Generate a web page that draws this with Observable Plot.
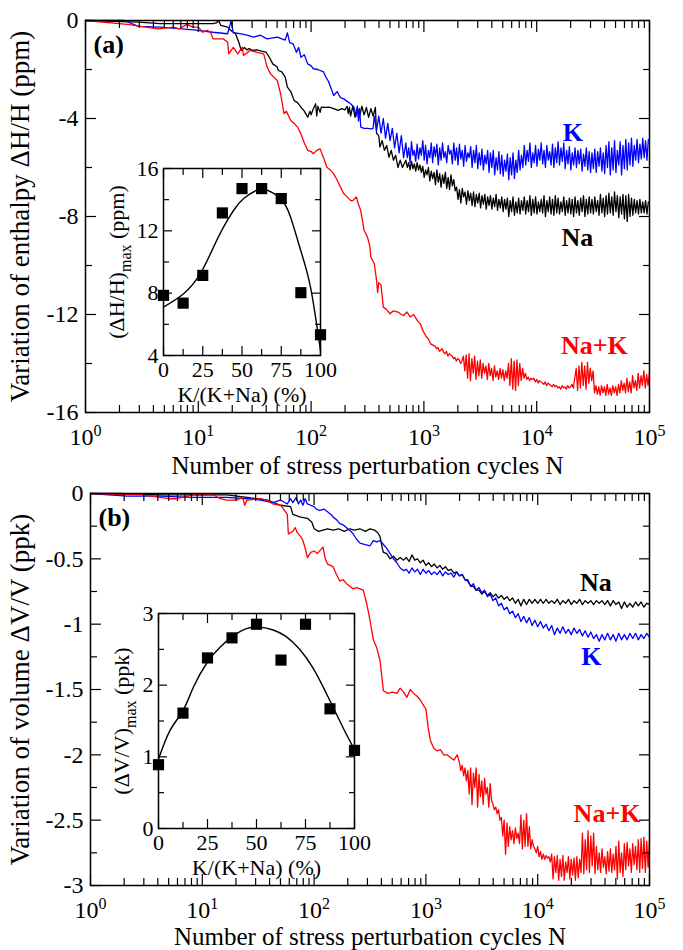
<!DOCTYPE html>
<html><head><meta charset="utf-8">
<script src="https://cdn.jsdelivr.net/npm/d3@7"></script>
<script src="https://cdn.jsdelivr.net/npm/@observablehq/plot@0.6"></script>
<style>
body{margin:0;background:#fff;}
#wrap{position:relative;width:683px;height:950px;overflow:hidden;}
.panel{position:relative;width:683px;}
.inset{position:absolute;}
svg{overflow:visible;}
</style></head><body>
<div id="wrap"><div id="pa" class="panel" style="height:482px"></div><div id="pb" class="panel" style="height:468px"></div></div>
<script>
// ---------- DATA ----------
// Panel (a): enthalpy, early parts as [log10 N, value]; noisy tails sampled every tailStep in log10 N
const K_a_early = [[0,0],[0.34,0],[0.47,-0.24],[0.66,-0.27],[0.96,-0.38],[1.13,-0.48],[1.26,-0.54],[1.29,-0.02],[1.31,-0.5],[1.37,-0.54],[1.44,-0.61],[1.49,-0.68],[1.55,-0.6],[1.61,-0.75],[1.70,-0.68],[1.77,-0.8],[1.79,-0.5],[1.81,-0.9],[1.84,-0.95],[1.87,-1.3],[1.89,-1.1],[1.91,-1.5],[1.94,-1.4],[1.97,-1.77],[2.00,-1.85],[2.02,-1.97],[2.06,-2.0],[2.11,-2.1],[2.13,-2.3],[2.15,-2.45],[2.18,-2.8],[2.20,-3.06],[2.23,-2.9],[2.26,-3.15],[2.29,-3.2],[2.32,-3.3],[2.35,-3.4],[2.38,-3.54],[2.40,-3.9],[2.41,-3.5],[2.42,-4.1],[2.43,-3.6],[2.44,-4.35],[2.47,-4.4],[2.50,-4.4],[2.53,-4.42],[2.55,-4.4],[2.56,-3.9],[2.58,-4.5],[2.60,-3.9],[2.62,-4.6],[2.64,-4.0],[2.66,-4.8],[2.68,-4.2],[2.70,-4.9],[2.72,-4.4],[2.74,-5.2],[2.76,-4.6],[2.78,-5.4],[2.80,-4.7],[2.82,-5.6]];
const K_a_tailStart = 2.84, K_a_tailStep = 0.0125;
const K_a_tail = [-5.0,-5.6,-5.2,-5.8,-4.95,-5.5,-5.3,-5.75,-5.05,-5.65,-5.2,-5.5,
 -4.9,-5.7,-5.1,-5.85,-5.3,-5.6,-5.0,-5.8,-5.15,-5.55,-5.05,-5.9,
 -5.2,-5.7,-5.0,-5.6,-5.35,-5.8,-5.1,-5.45,-5.3,-5.85,-5.0,-5.7,
 -5.2,-5.9,-5.05,-5.65,-5.3,-5.95,-5.1,-5.75,-5.4,-5.6,-5.15,-6.0,
 -5.3,-5.8,-5.1,-6.05,-5.4,-5.9,-5.25,-6.1,-5.5,-5.85,-5.3,-6.2,
 -5.4,-6.0,-5.3,-6.3,-5.6,-6.1,-5.35,-6.25,-5.5,-6.35,-5.7,-6.15,
 -5.45,-6.5,-5.6,-6.3,-5.4,-6.45,-5.7,-6.2,-5.3,-6.1,-5.5,-6.0,
 -5.1,-5.9,-5.3,-5.75,-5.0,-6.0,-5.4,-5.8,-5.1,-5.95,-5.25,-5.7,
 -5.0,-5.85,-5.3,-6.0,-5.1,-5.7,-5.35,-5.9,-5.05,-6.0,-5.2,-5.8,
 -4.95,-5.9,-5.2,-5.75,-5.0,-6.05,-5.3,-5.85,-5.15,-6.1,-5.4,-5.9,
 -5.2,-6.0,-5.3,-5.85,-5.25,-6.15,-5.45,-5.95,-5.2,-6.1,-5.35,-6.2,
 -5.4,-6.05,-5.25,-6.2,-5.35,-5.95,-5.2,-6.15,-5.4,-6.25,-5.1,-6.0,
 -4.95,-6.3,-5.2,-6.1,-4.9,-6.2,-5.3,-5.9,-4.95,-6.3,-5.1,-6.05,
 -4.85,-6.1,-5.0,-5.9,-4.8,-5.95,-5.1,-5.7,-4.85,-5.8,-5.05,-5.65,
 -4.8,-5.6,-4.9,-5.7,-4.85];
const Na_a_early = [[0,0],[0.34,-0.05],[0.47,-0.07],[0.66,-0.13],[0.9,-0.13],[1.13,-0.13],[1.16,-0.1],[1.18,0],[1.20,-0.2],[1.26,-0.27],[1.30,-0.45],[1.33,-0.54],[1.36,-0.9],[1.38,-1.22],[1.41,-1.1],[1.43,-1.2],[1.45,-1.15],[1.48,-1.22],[1.52,-1.2],[1.56,-1.25],[1.60,-1.29],[1.63,-1.5],[1.66,-1.77],[1.70,-1.9],[1.71,-2.04],[1.74,-2.1],[1.77,-2.31],[1.79,-2.72],[1.82,-2.9],[1.85,-3.27],[1.88,-3.35],[1.91,-3.54],[1.94,-3.7],[1.97,-3.95],[1.99,-3.7],[2.00,-3.85],[2.02,-3.6],[2.04,-3.4],[2.05,-3.9],[2.06,-3.5],[2.08,-3.75],[2.09,-3.54],[2.12,-3.55],[2.16,-3.54],[2.20,-3.6],[2.24,-3.67],[2.27,-3.6],[2.30,-3.65],[2.32,-3.5],[2.33,-3.8],[2.34,-3.54],[2.35,-3.9],[2.37,-3.5],[2.39,-3.95],[2.41,-3.55],[2.43,-3.9],[2.45,-3.5],[2.47,-3.85],[2.49,-3.55],[2.51,-3.95],[2.53,-3.6],[2.55,-3.9],[2.57,-3.55],[2.58,-4.6],[2.60,-4.7],[2.61,-5.17],[2.63,-4.9],[2.65,-5.3],[2.67,-5.1],[2.69,-5.58],[2.71,-5.3],[2.73,-5.7],[2.75,-5.5],[2.77,-6.0],[2.79,-5.7],[2.81,-6.0]];
const Na_a_tailStart = 2.84, Na_a_tailStep = 0.0125;
const Na_a_tail = [-5.7,-6.0,-5.8,-6.1,-5.75,-6.05,-5.85,-6.15,-5.8,-6.1,-5.9,-6.2,
 -5.95,-6.4,-6.1,-6.3,-6.0,-6.55,-6.15,-6.45,-6.2,-6.7,-6.1,-6.6,
 -6.25,-6.8,-6.3,-6.65,-6.2,-6.85,-6.4,-6.9,-6.3,-6.75,-6.5,-6.95,
 -6.8,-7.3,-6.9,-7.45,-6.85,-7.2,-7.0,-7.5,-6.95,-7.35,-7.05,-7.55,
 -7.0,-7.6,-7.1,-7.45,-7.05,-7.65,-7.15,-7.5,-7.1,-7.7,-7.2,-7.55,
 -7.15,-7.7,-7.25,-7.6,-7.1,-7.75,-7.3,-7.65,-7.2,-7.8,-7.3,-7.7,
 -7.25,-8.0,-7.35,-7.8,-7.2,-7.95,-7.4,-7.85,-7.25,-7.9,-7.35,-7.75,
 -7.2,-7.9,-7.35,-7.8,-7.15,-7.95,-7.3,-7.85,-7.2,-7.9,-7.4,-7.8,
 -7.3,-7.85,-7.15,-8.0,-7.35,-7.8,-7.2,-7.9,-7.3,-7.95,-7.15,-7.85,
 -7.25,-7.9,-7.4,-7.8,-7.2,-7.95,-7.35,-7.85,-7.25,-7.9,-7.3,-8.0,
 -7.2,-7.85,-7.35,-7.95,-7.25,-7.8,-7.15,-8.0,-7.3,-7.9,-7.2,-7.85,
 -7.3,-7.9,-7.2,-7.8,-7.35,-7.95,-7.1,-7.85,-7.25,-8.0,-7.15,-7.9,
 -7.05,-7.85,-7.2,-7.95,-7.0,-7.8,-7.15,-8.05,-7.2,-7.9,-7.1,-8.1,
 -7.15,-8.2,-7.1,-8.0,-7.25,-7.95,-7.3,-7.85,-7.35,-7.9,-7.3,-7.85,
 -7.4,-7.85,-7.35,-7.9,-7.4];
const NaK_a_early = [[0,0],[0.37,-0.16],[0.64,-0.34],[0.78,-0.27],[0.83,-0.34],[0.9,-0.16],[0.95,-0.27],[1.0,-0.27],[1.04,-0.48],[1.08,-0.4],[1.11,-0.5],[1.13,-0.75],[1.22,-0.75],[1.26,-0.88],[1.27,-1.36],[1.31,-1.1],[1.35,-1.36],[1.39,-1.09],[1.40,-1.43],[1.46,-1.22],[1.52,-1.3],[1.58,-1.36],[1.61,-1.9],[1.64,-2.18],[1.70,-2.45],[1.73,-3.0],[1.76,-3.8],[1.78,-3.7],[1.82,-4.08],[1.85,-4.2],[1.88,-4.35],[1.91,-4.63],[1.94,-5.0],[1.97,-5.3],[2.0,-5.35],[2.02,-5.44],[2.05,-5.3],[2.08,-5.24],[2.11,-5.6],[2.14,-5.99],[2.17,-6.1],[2.20,-6.26],[2.23,-6.5],[2.26,-6.8],[2.29,-7.07],[2.32,-7.2],[2.35,-7.35],[2.37,-7.35],[2.40,-7.2],[2.42,-7.5],[2.44,-7.76],[2.46,-8.3],[2.47,-8.57],[2.50,-8.84],[2.52,-9.2],[2.53,-9.66],[2.56,-9.93],[2.58,-10.6],[2.59,-11.1],[2.60,-10.7],[2.62,-10.8],[2.64,-11.7],[2.67,-11.8],[2.70,-11.97],[2.73,-11.85],[2.77,-11.9],[2.80,-12.0],[2.82,-12.04],[2.85,-11.9],[2.88,-12.1],[2.91,-12.0],[2.94,-12.24],[2.97,-12.4],[2.99,-12.65],[3.02,-12.9],[3.04,-13.0],[3.06,-13.2],[3.08,-13.25]];
const NaK_a_tailStart = 3.10, NaK_a_tailStep = 0.0125;
const NaK_a_tail = [-13.3,-13.4,-13.35,-13.5,-13.45,-13.4,-13.55,-13.6,-13.5,-13.7,-13.6,-13.65,
 -13.7,-13.8,-13.75,-13.9,-13.8,-13.85,-14.0,-13.9,-13.7,-14.3,-13.65,-14.6,
 -13.6,-14.7,-13.8,-14.4,-13.7,-14.65,-13.9,-14.5,-13.85,-14.6,-14.0,-14.4,
 -14.1,-14.65,-14.0,-14.5,-14.2,-14.7,-14.1,-14.55,-14.3,-14.65,-14.2,-14.6,
 -14.25,-14.7,-14.3,-14.6,-14.0,-14.9,-13.8,-15.05,-13.9,-15.1,-13.85,-14.9,
 -14.0,-14.7,-14.2,-14.6,-14.4,-14.65,-14.55,-14.7,-14.6,-14.65,-14.6,-14.75,
 -14.65,-14.8,-14.7,-14.75,-14.8,-14.85,-14.75,-14.9,-14.8,-14.85,-14.9,-14.95,
 -14.85,-14.95,-14.9,-15.0,-14.95,-15.05,-14.9,-15.0,-14.95,-15.05,-14.9,-15.0,
 -14.95,-14.85,-15.0,-14.6,-14.2,-15.1,-14.1,-15.0,-13.95,-14.9,-14.1,-15.05,
 -13.95,-14.8,-14.2,-14.7,-14.3,-15.2,-14.9,-15.25,-14.95,-15.3,-14.9,-15.2,
 -14.95,-15.3,-14.85,-15.25,-15.0,-15.3,-14.9,-15.2,-14.95,-15.3,-14.85,-15.2,
 -14.7,-15.1,-14.8,-15.2,-14.6,-15.15,-14.75,-15.2,-14.5,-15.0,-14.7,-15.1,
 -14.4,-15.0,-14.5,-14.9,-14.3,-15.0,-14.45,-14.9,-14.35];

// Panel (b): volume
const K_b_early = [[0,0],[0.33,-0.02],[0.62,-0.02],[0.92,-0.03],[1.22,-0.03],[1.40,-0.04],[1.52,-0.05],[1.63,-0.07],[1.70,-0.05],[1.76,-0.08],[1.79,-0.04],[1.81,-0.07],[1.84,-0.03],[1.86,-0.08],[1.88,-0.05],[1.90,-0.09],[1.92,-0.04],[1.94,-0.08],[1.97,-0.09],[2.00,-0.1],[2.02,-0.12],[2.05,-0.13],[2.09,-0.12],[2.12,-0.14],[2.15,-0.16],[2.17,-0.18],[2.20,-0.2],[2.23,-0.23],[2.26,-0.24],[2.30,-0.27],[2.33,-0.29],[2.35,-0.31],[2.38,-0.35],[2.41,-0.38],[2.45,-0.39],[2.50,-0.4],[2.53,-0.36],[2.56,-0.37],[2.59,-0.36],[2.62,-0.39],[2.65,-0.42],[2.68,-0.46],[2.71,-0.5],[2.74,-0.53],[2.77,-0.57],[2.80,-0.59]];
const K_b_tailStart = 2.825, K_b_tailStep = 0.025;
const K_b_tail = [-0.58,-0.61,-0.57,-0.6,-0.58,-0.62,-0.58,-0.61,-0.59,-0.62,-0.6,-0.62,-0.59,-0.63,-0.6,-0.62,-0.61,-0.64,-0.6,-0.63,-0.62,-0.66,-0.66,-0.71,-0.69,-0.74,-0.72,-0.76,-0.74,-0.79,-0.77,-0.82,-0.8,-0.86,-0.84,-0.89,-0.87,-0.92,-0.9,-0.95,-0.92,-0.98,-0.94,-0.99,-0.95,-1.01,-0.97,-1.02,-0.98,-1.03,-1.0,-1.05,-1.01,-1.08,-1.03,-1.07,-1.02,-1.07,-1.04,-1.08,-1.03,-1.07,-1.04,-1.09,-1.05,-1.1,-1.06,-1.11,-1.08,-1.13,-1.08,-1.12,-1.07,-1.12,-1.08,-1.13,-1.07,-1.12,-1.08,-1.12,-1.07,-1.11,-1.07,-1.12,-1.08,-1.11,-1.07,-1.1];
const Na_b_early = [[0,0],[0.26,0],[0.62,-0.01],[1.22,-0.01],[1.40,-0.03],[1.49,-0.04],[1.58,-0.05],[1.70,-0.09],[1.79,-0.1],[1.81,-0.16],[1.88,-0.18],[1.94,-0.19],[1.98,-0.22],[2.00,-0.27],[2.04,-0.29],[2.08,-0.28],[2.12,-0.27],[2.17,-0.28],[2.22,-0.27],[2.27,-0.29],[2.32,-0.27],[2.36,-0.28],[2.41,-0.27],[2.46,-0.29],[2.50,-0.27],[2.54,-0.28],[2.57,-0.3],[2.59,-0.33],[2.61,-0.42],[2.62,-0.45],[2.65,-0.46],[2.68,-0.5],[2.71,-0.48],[2.74,-0.51],[2.77,-0.49],[2.80,-0.51]];
const Na_b_tailStart = 2.825, Na_b_tailStep = 0.025;
const Na_b_tail = [-0.49,-0.52,-0.47,-0.51,-0.5,-0.53,-0.51,-0.55,-0.53,-0.56,-0.54,-0.57,-0.55,-0.58,-0.56,-0.59,-0.58,-0.61,-0.6,-0.63,-0.62,-0.66,-0.67,-0.71,-0.71,-0.74,-0.74,-0.77,-0.75,-0.78,-0.76,-0.79,-0.77,-0.8,-0.78,-0.81,-0.79,-0.82,-0.8,-0.84,-0.81,-0.86,-0.81,-0.85,-0.81,-0.84,-0.81,-0.84,-0.81,-0.84,-0.81,-0.84,-0.82,-0.84,-0.81,-0.85,-0.82,-0.84,-0.81,-0.85,-0.82,-0.84,-0.81,-0.85,-0.82,-0.84,-0.82,-0.85,-0.82,-0.84,-0.82,-0.85,-0.82,-0.86,-0.82,-0.85,-0.83,-0.88,-0.83,-0.87,-0.84,-0.87,-0.83,-0.86,-0.83,-0.87,-0.84,-0.85];
const NaK_b_early = [[0,0],[0.47,-0.01],[0.62,-0.03],[0.71,-0.04],[0.77,-0.04],[0.92,-0.01],[1.10,-0.01],[1.16,-0.04],[1.22,-0.05],[1.31,-0.05],[1.36,-0.03],[1.38,-0.09],[1.40,-0.05],[1.52,-0.04],[1.58,-0.05],[1.63,-0.08],[1.70,-0.09],[1.72,-0.11],[1.76,-0.16],[1.77,-0.31],[1.81,-0.29],[1.83,-0.26],[1.85,-0.3],[1.88,-0.33],[1.90,-0.36],[1.92,-0.42],[1.94,-0.49],[1.97,-0.45],[2.0,-0.44],[2.03,-0.46],[2.06,-0.43],[2.08,-0.41],[2.10,-0.5],[2.12,-0.54],[2.17,-0.56],[2.20,-0.62],[2.23,-0.67],[2.26,-0.66],[2.29,-0.69],[2.32,-0.71],[2.35,-0.73],[2.38,-0.72],[2.41,-0.73],[2.44,-0.74],[2.47,-0.84],[2.50,-0.97],[2.53,-1.12],[2.56,-1.18],[2.59,-1.28],[2.62,-1.51],[2.66,-1.53],[2.70,-1.52],[2.74,-1.53],[2.77,-1.49],[2.80,-1.52],[2.83,-1.56],[2.86,-1.5],[2.89,-1.53],[2.92,-1.55],[2.95,-1.58],[2.97,-1.61],[3.0,-1.65],[3.02,-1.79],[3.04,-1.89],[3.07,-1.95],[3.10,-1.97],[3.13,-1.96],[3.16,-2.0],[3.19,-2.0],[3.22,-2.02],[3.25,-2.04],[3.28,-2.0]];
const NaK_b_tailStart = 3.30, NaK_b_tailStep = 0.0125;
const NaK_b_tail = [-2.06,-2.12,-2.08,-2.16,-2.1,-2.2,-2.12,-2.3,-2.1,-2.38,-2.14,-2.25,
 -2.1,-2.4,-2.15,-2.32,-2.2,-2.38,-2.18,-2.3,-2.25,-2.4,-2.22,-2.35,
 -2.38,-2.42,-2.4,-2.45,-2.42,-2.5,-2.48,-2.62,-2.5,-2.76,-2.52,-2.7,
 -2.55,-2.65,-2.58,-2.68,-2.56,-2.64,-2.6,-2.68,-2.46,-2.72,-2.5,-2.7,
 -2.45,-2.7,-2.55,-2.72,-2.65,-2.7,-2.72,-2.75,-2.7,-2.78,-2.74,-2.8,
 -2.76,-2.8,-2.77,-2.79,-2.78,-2.82,-2.76,-2.95,-2.78,-2.9,-2.77,-2.96,
 -2.8,-2.93,-2.77,-2.96,-2.82,-2.9,-2.78,-2.95,-2.8,-2.92,-2.79,-2.96,
 -2.78,-2.94,-2.8,-2.9,-2.6,-2.91,-2.65,-2.88,-2.58,-2.9,-2.62,-2.85,
 -2.6,-2.91,-2.7,-2.88,-2.75,-2.9,-2.72,-2.86,-2.78,-2.91,-2.74,-2.89,
 -2.72,-2.9,-2.76,-2.88,-2.7,-2.95,-2.66,-2.9,-2.75,-2.93,-2.68,-2.88,
 -2.67,-2.85,-2.72,-2.9,-2.68,-2.84,-2.7,-2.88,-2.65,-2.9,-2.64,-2.87,
 -2.63,-2.9,-2.66,-2.86,-2.65];

// Insets
const fracK = [0, 12.5, 25, 37.5, 50, 62.5, 75, 87.5, 100];
const dHmax = [7.86, 7.36, 9.14, 13.15, 14.71, 14.71, 14.07, 8.03, 5.33];
const dVmax = [0.89, 1.61, 2.38, 2.66, 2.85, 2.35, 2.85, 1.67, 1.09];
const fitH_x = [0, 12.8, 23.4, 31.9, 38.3, 44.7, 51.1, 59.6, 66, 74.5, 80.9, 87.2, 93.6, 100];
const fitH_y = [7.11, 7.96, 9.25, 10.96, 12.25, 13.32, 14.07, 14.61, 14.61, 14.07, 12.89, 10.8, 8.4, 4.3];
const fitV_x = [0, 5.9, 12.4, 17.8, 24.9, 31.4, 37.8, 44.9, 51.7, 58.5, 65, 72, 78.8, 85, 90, 95, 100];
const fitV_y = [0.97, 1.37, 1.64, 1.97, 2.32, 2.53, 2.68, 2.79, 2.81, 2.77, 2.68, 2.5, 2.24, 1.92, 1.64, 1.36, 1.1];

// Ticks
const xMajor = [1, 10, 100, 1000, 10000, 100000];
const xMinor = [0,1,2,3,4].flatMap(e => [2,3,4,5,6,7,8,9].map(m => m * 10 ** e));
const yMajorA = [0, -4, -8, -12, -16], yMinorA = [-2, -6, -10, -14];
const yMajorB = [0, -0.5, -1, -1.5, -2, -2.5, -3], yMinorB = [-0.25, -0.75, -1.25, -1.75, -2.25, -2.75];
const insetXMajor = [0, 25, 50, 75, 100], insetXMinor = [12.5, 37.5, 62.5, 87.5];
const insetYAMajor = [4, 8, 12, 16], insetYAMinor = [6, 10, 14];
const insetYBMajor = [0, 1, 2, 3], insetYBMinor = [0.5, 1.5, 2.5];

// Series labels
const seriesNames = ["K", "Na", "Na+K"];
const seriesColors = ["#0000ff", "#000000", "#ff0000"];
const labelA_N = [20900, 22900, 32400], labelA_v = [-4.57, -8.86, -13.27];
const labelB_N = [30200, 33100, 41700], labelB_v = [-1.25, -0.68, -2.45];

// ---------- DRAW ----------
const FONT = '"Liberation Serif", "Times New Roman", serif';
function series(early, start, step, tail) {
  const pts = early.map(([lg, v]) => ({N: 10 ** lg, v}));
  tail.forEach((v, i) => pts.push({N: 10 ** (start + i * step), v}));
  return pts;
}
function ticks(xMaj, xMin, yMaj, yMin, lMaj, lMin) {
  const o = {label: null, fill: "none", stroke: "black", strokeWidth: 1.2};
  const out = [];
  for (const a of ["bottom", "top"]) {
    out.push(Plot.axisX({...o, ticks: xMaj, anchor: a, tickSize: -lMaj}));
    out.push(Plot.axisX({...o, ticks: xMin, anchor: a, tickSize: -lMin}));
  }
  for (const a of ["left", "right"]) {
    out.push(Plot.axisY({...o, ticks: yMaj, anchor: a, tickSize: -lMaj}));
    out.push(Plot.axisY({...o, ticks: yMin, anchor: a, tickSize: -lMin}));
  }
  return out;
}
function fixText(svg) {
  svg.querySelectorAll("text").forEach(t => {
    const s = t.textContent;
    if (s.startsWith("§")) {
      t.innerHTML = `10<tspan dy="-9" font-size="16">${s.slice(1)}</tspan>`;
    } else if (s.includes("¦")) {
      const [a, b, c] = s.split("¦");
      t.innerHTML = `${a}<tspan dy="7" font-size="16">${b}</tspan><tspan dy="-7">${c}</tspan>`;
    }
  });
  return svg;
}
function mainPanel({lines, yDomain, yMaj, yMin, ml, mt, mb, height, yTitle, titleDy, tag, labN, labV}) {
  const lab = seriesNames.map((s, i) => ({s, N: labN[i], v: labV[i], c: seriesColors[i]}));
  return fixText(Plot.plot({
    width: 683, height, marginLeft: ml, marginRight: 34, marginTop: mt, marginBottom: mb,
    x: {type: "log", domain: [1, 1e5]},
    y: {domain: yDomain},
    style: {fontFamily: FONT, fontSize: "24px", background: "transparent", overflow: "visible", color: "black"},
    marks: [
      ...lines.map(([d, c]) => Plot.line(d, {x: "N", y: "v", stroke: c, strokeWidth: 1.3})),
      ...ticks(xMajor, xMinor, yMaj, yMin, 11, 7),
      Plot.frame({stroke: "black", strokeWidth: 1.5}),
      Plot.text(xMajor, {x: d => d, text: d => "§" + Math.round(Math.log10(d)), frameAnchor: "bottom", dy: 25, lineAnchor: "middle", fontSize: 24}),
      Plot.text(yMaj, {y: d => d, text: d => String(d), frameAnchor: "left", dx: -7, textAnchor: "end", lineAnchor: "middle", fontSize: 24}),
      Plot.text(["Number of stress perturbation cycles N"], {text: d => d, frameAnchor: "bottom", dy: titleDy, textAnchor: "middle", lineAnchor: "middle", fontSize: 25}),
      Plot.text([yTitle], {text: d => d, frameAnchor: "left", dx: -(ml - 20), rotate: -90, textAnchor: "middle", lineAnchor: "middle", fontSize: 27}),
      Plot.text([tag], {text: d => d, frameAnchor: "top-left", dx: 8, dy: 24, textAnchor: "start", lineAnchor: "middle", fontWeight: "bold", fontSize: 26}),
      Plot.text(lab, {x: "N", y: "v", text: "s", fill: "c", fontWeight: "bold", fontSize: 26, textAnchor: "middle", lineAnchor: "middle"})
    ]
  }));
}
function insetPanel({vals, fx, fy, yDomain, yMaj, yMin, w, h, title, titleDx}) {
  const ml = 60, mt = 12, mr = 14, mb = 50;
  const pts = fracK.map((x, i) => ({x, y: vals[i]}));
  const fit = fx.map((x, i) => ({x, y: fy[i]}));
  return fixText(Plot.plot({
    width: ml + w + mr, height: mt + h + mb, marginLeft: ml, marginTop: mt, marginRight: mr, marginBottom: mb,
    x: {domain: [0, 100]}, y: {domain: yDomain},
    style: {fontFamily: FONT, fontSize: "22px", background: "transparent", overflow: "visible", color: "black"},
    marks: [
      Plot.frame({fill: "white", stroke: "black", strokeWidth: 1.5}),
      ...ticks(insetXMajor, insetXMinor, yMaj, yMin, 9, 6),
      Plot.line(fit, {x: "x", y: "y", curve: "natural", stroke: "black", strokeWidth: 1.4}),
      Plot.dot(pts, {x: "x", y: "y", symbol: "square", r: 6.3, fill: "black", stroke: null}),
      Plot.text(insetXMajor, {x: d => d, text: d => String(d), frameAnchor: "bottom", dy: 14, textAnchor: "middle", lineAnchor: "middle", fontSize: 22}),
      Plot.text(yMaj, {y: d => d, text: d => String(d), frameAnchor: "left", dx: -5, textAnchor: "end", lineAnchor: "middle", fontSize: 22}),
      Plot.text(["K/(K+Na) (%)"], {text: d => d, frameAnchor: "bottom", dy: 39, textAnchor: "middle", lineAnchor: "middle", fontSize: 22}),
      Plot.text([title], {text: d => d, frameAnchor: "left", dx: titleDx, rotate: -90, textAnchor: "middle", lineAnchor: "middle", fontSize: 22})
    ]
  }));
}

const pa = document.getElementById("pa");
pa.appendChild(mainPanel({
  lines: [[series(Na_a_early, Na_a_tailStart, Na_a_tailStep, Na_a_tail), "#000000"], [series(K_a_early, K_a_tailStart, K_a_tailStep, K_a_tail), "#0000ff"], [series(NaK_a_early, NaK_a_tailStart, NaK_a_tailStep, NaK_a_tail), "#ff0000"]],
  yDomain: [-16, 0], yMaj: yMajorA, yMin: yMinorA, ml: 85, mt: 20, mb: 70, height: 482, titleDy: 53,
  yTitle: "Variation of enthalpy ΔH/H (ppm)", tag: "(a)", labN: labelA_N, labV: labelA_v
}));
const ia = document.createElement("div"); ia.className = "inset"; ia.style.left = "103px"; ia.style.top = "156px";
ia.appendChild(insetPanel({vals: dHmax, fx: fitH_x, fy: fitH_y, yDomain: [4, 16], yMaj: insetYAMajor, yMin: insetYAMinor, w: 157, h: 187, title: "(ΔH/H)¦max¦ (ppm)", titleDx: -47}));
pa.appendChild(ia);

const pb = document.getElementById("pb");
pb.appendChild(mainPanel({
  lines: [[series(Na_b_early, Na_b_tailStart, Na_b_tailStep, Na_b_tail), "#000000"], [series(K_b_early, K_b_tailStart, K_b_tailStep, K_b_tail), "#0000ff"], [series(NaK_b_early, NaK_b_tailStart, NaK_b_tailStep, NaK_b_tail), "#ff0000"]],
  yDomain: [-3, 0], yMaj: yMajorB, yMin: yMinorB, ml: 90, mt: 11, mb: 65, height: 468, titleDy: 51,
  yTitle: "Variation of volume ΔV/V (ppk)", tag: "(b)", labN: labelB_N, labV: labelB_v
}));
const ib = document.createElement("div"); ib.className = "inset"; ib.style.left = "98px"; ib.style.top = "119px";
ib.appendChild(insetPanel({vals: dVmax, fx: fitV_x, fy: fitV_y, yDomain: [0, 3], yMaj: insetYBMajor, yMin: insetYBMinor, w: 196, h: 215, title: "(ΔV/V)¦max¦ (ppk)", titleDx: -37}));
pb.appendChild(ib);
</script></body></html>
